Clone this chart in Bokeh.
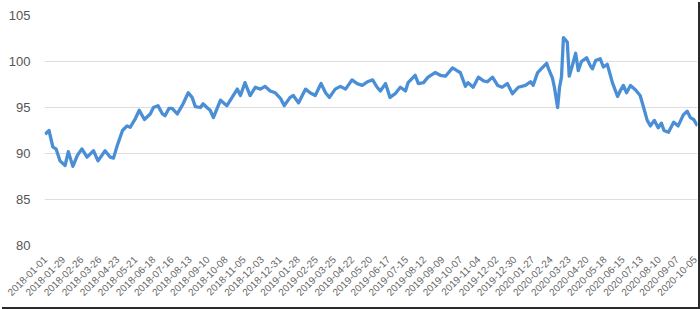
import pandas as pd
from bokeh.plotting import figure
from bokeh.models import Range1d, FixedTicker, DatetimeTickFormatter
from bokeh.embed import file_html
from bokeh.resources import INLINE

start = pd.Timestamp("2018-01-01")
day_offsets = [
    0, 6, 12, 17, 23, 31, 36, 43, 50, 57, 65, 75, 82, 93, 101, 106, 112, 120,
    127, 132, 140, 146, 154, 163, 168, 175, 182, 186, 192, 197, 205, 214, 222,
    228, 233, 241, 245, 251, 256, 261, 272, 282, 290, 298, 303, 310, 318, 326,
    334, 341, 349, 357, 365, 371, 380, 385, 393, 404, 411, 419, 428, 435, 441,
    450, 458, 466, 476, 484, 492, 500, 508, 515, 520, 528, 535, 543, 551, 559,
    563, 574, 579, 587, 594, 605, 613, 621, 632, 639, 644, 652, 656, 664, 672,
    680, 686, 694, 702, 709, 717, 725, 734, 745, 753, 757, 764, 771, 778, 781,
    787, 790, 795, 798, 801, 804, 810, 813, 818, 823, 827, 832, 840, 846, 849,
    854, 861, 866, 872, 880, 888, 892, 897, 902, 908, 916, 923, 928, 934, 939,
    945, 951, 956, 960, 967, 975, 982, 990, 996, 1001, 1006, 1012,
]
values = [
    92.1, 92.5, 90.7, 90.5, 89.2, 88.7, 90.2, 88.6, 89.8, 90.5, 89.6, 90.3,
    89.2, 90.3, 89.6, 89.5, 90.9, 92.5, 93.0, 92.85, 93.8, 94.7, 93.7, 94.3,
    95.0, 95.2, 94.3, 94.1, 94.9, 94.9, 94.3, 95.4, 96.6, 96.1, 95.1, 95.0,
    95.4, 95.0, 94.7, 93.9, 95.8, 95.2, 96.1, 97.0, 96.3, 97.7, 96.3, 97.2,
    97.0, 97.3, 96.8, 96.6, 96.0, 95.2, 96.1, 96.3, 95.5, 97.0, 96.6, 96.3,
    97.6, 96.6, 96.1, 97.0, 97.3, 97.0, 98.0, 97.6, 97.4, 97.8, 98.0, 97.2,
    96.8, 97.6, 96.1, 96.5, 97.2, 96.8, 97.7, 98.5, 97.6, 97.7, 98.3, 98.8,
    98.5, 98.4, 99.3, 99.0, 98.8, 97.3, 97.7, 97.2, 98.3, 97.9, 97.8, 98.3,
    97.4, 97.2, 97.6, 96.5, 97.2, 97.4, 97.8, 97.4, 98.8, 99.3, 99.8, 99.2,
    98.2, 97.2, 95.0, 97.2, 98.3, 102.6, 102.1, 98.4, 99.6, 100.9, 99.0, 100.0,
    100.4, 99.5, 99.2, 100.1, 100.3, 99.4, 99.7, 97.7, 96.2, 96.8, 97.4, 96.6,
    97.4, 96.9, 96.3, 95.1, 93.6, 93.0, 93.6, 92.8, 93.3, 92.5, 92.3, 93.4,
    93.0, 94.2, 94.6, 93.9, 93.7, 93.0,
]
dates = [start + pd.Timedelta(days=d) for d in day_offsets]

tick_labels = [
    "2018-01-01", "2018-01-29", "2018-02-26", "2018-03-26", "2018-04-23",
    "2018-05-21", "2018-06-18", "2018-07-16", "2018-08-13", "2018-09-10",
    "2018-10-08", "2018-11-05", "2018-12-03", "2018-12-31", "2019-01-28",
    "2019-02-25", "2019-03-25", "2019-04-22", "2019-05-20", "2019-06-17",
    "2019-07-15", "2019-08-12", "2019-09-09", "2019-10-07", "2019-11-04",
    "2019-12-02", "2019-12-30", "2020-01-27", "2020-02-24", "2020-03-23",
    "2020-04-20", "2020-05-18", "2020-06-15", "2020-07-13", "2020-08-10",
    "2020-09-07", "2020-10-05",
]
y_ticks = [80, 85, 90, 95, 100, 105]

p = figure(
    width=698, height=307,
    x_axis_type="datetime",
    output_backend="svg", toolbar_location=None,
    x_range=Range1d(pd.Timestamp("2017-12-31"), pd.Timestamp("2020-10-09")),
    y_range=Range1d(80, 105),
    min_border_left=44, min_border_right=1, min_border_top=15, min_border_bottom=62,
)
p.styles = {"box-shadow": "2px 2px 0px 0px #2a2a2a"}
p.outline_line_color = None
p.background_fill_color = "white"
p.border_fill_color = "white"

p.line(dates, values, line_color="#4a8fd6", line_width=3.3, line_join="round")

tick_ms = [pd.Timestamp(t).value // 10**6 for t in tick_labels]
p.xaxis.ticker = FixedTicker(ticks=tick_ms)
fmt = "%Y-%m-%d"
p.xaxis.formatter = DatetimeTickFormatter(
    microseconds=fmt, milliseconds=fmt, seconds=fmt, minsec=fmt, minutes=fmt,
    hourmin=fmt, hours=fmt, days=fmt, months=fmt, years=fmt,
)
p.xaxis.major_label_orientation = 0.785398
p.yaxis.ticker = FixedTicker(ticks=y_ticks)

for ax in (p.xaxis, p.yaxis):
    ax.axis_line_color = None
    ax.major_tick_line_color = None
    ax.minor_tick_line_color = None
    ax.major_label_text_font = "Liberation Sans"

p.xaxis.major_label_text_font_size = "10px"
p.xaxis.major_label_text_color = "#666666"
p.xaxis.major_label_standoff = 6
p.yaxis.major_label_text_font_size = "13px"
p.yaxis.major_label_text_color = "#555555"
p.yaxis.major_label_standoff = 8

p.xgrid.grid_line_color = None
p.ygrid.grid_line_color = "#dddddd"
p.ygrid.grid_line_width = 1

open("out.html", "w").write(file_html(p, INLINE))
